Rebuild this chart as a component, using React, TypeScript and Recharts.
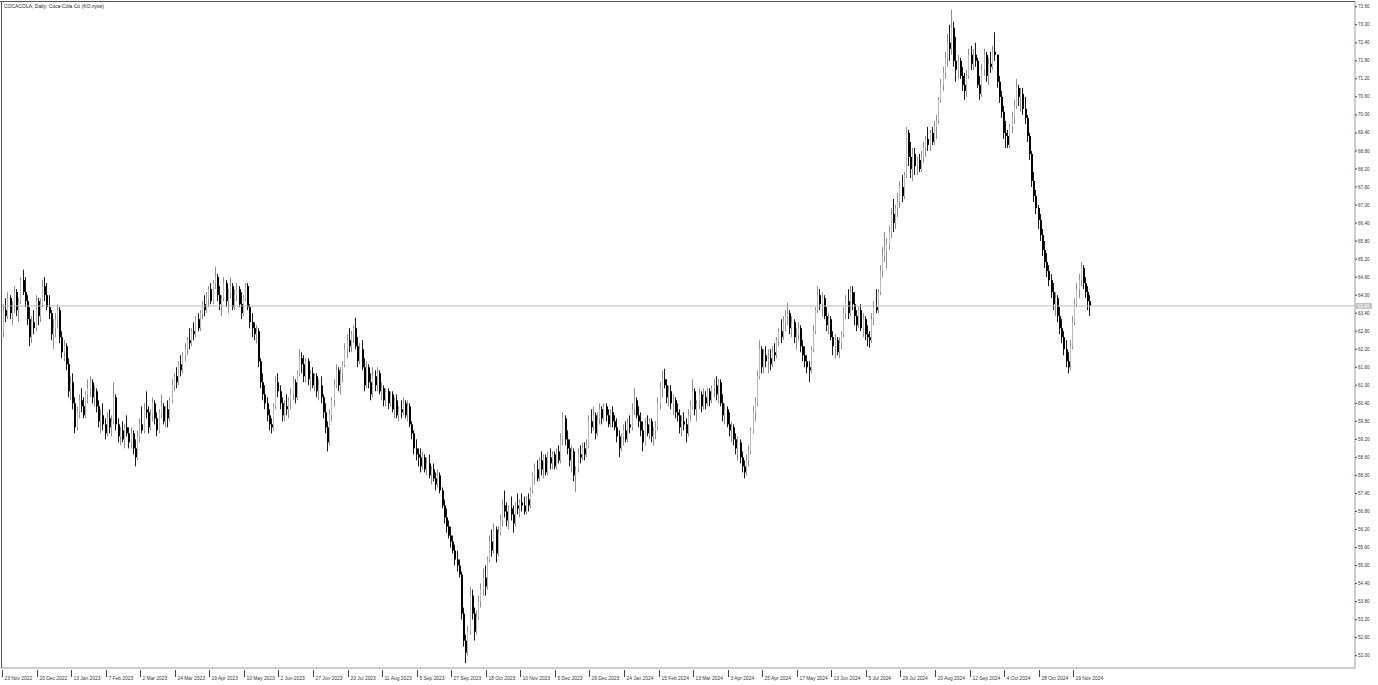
import { ComposedChart, Bar, XAxis, YAxis, ReferenceLine } from 'recharts';

// daily candles, [open, high, low, close]
const nov22ToApr23 = [
  [62.0,63.0,61.75,62.8],[62.8,63.7,62.6,63.5],[63.5,63.9,63.1,63.3],[63.3,64.1,63.2,63.9],[63.9,64.0,63.2,63.4],[63.4,63.8,63.0,63.6],[63.6,64.3,63.4,64.1],[64.1,64.2,63.3,63.5],[63.5,63.9,63.1,63.8],[63.8,64.6,63.7,64.5],
  [64.5,64.85,64.0,64.1],[64.1,64.6,63.6,63.8],[63.8,64.0,63.0,63.2],[63.2,63.6,62.3,62.6],[62.6,63.3,62.4,63.1],[63.1,63.5,62.7,62.9],[62.9,64.0,62.8,63.8],[63.8,63.9,63.0,63.3],[63.3,63.9,63.1,63.7],[63.7,64.5,63.6,64.3],
  [64.3,64.6,63.8,64.0],[64.0,64.4,63.5,63.6],[63.6,64.0,63.2,63.4],[63.4,63.5,62.5,62.7],[62.7,63.2,62.2,62.9],[62.9,63.4,62.6,63.2],[63.2,63.7,62.9,63.5],[63.5,63.6,62.4,62.6],[62.6,62.8,61.9,62.1],[62.1,62.5,61.8,62.3],
  [62.3,62.4,61.5,61.7],[61.7,61.9,60.6,60.8],[60.8,61.3,60.5,61.1],[61.1,61.4,60.2,60.4],[60.4,60.6,59.4,59.6],[59.6,60.3,59.5,60.1],[60.1,60.7,59.9,60.5],[60.5,60.9,60.1,60.3],[60.3,60.6,59.9,60.0],[60.0,60.8,59.9,60.7],
  [60.7,61.2,60.4,60.9],[60.9,61.3,60.6,61.1],[61.1,61.2,60.4,60.6],[60.6,61.0,60.3,60.8],[60.8,60.9,60.1,60.3],[60.3,60.5,59.6,59.8],[59.8,60.2,59.4,60.0],[60.0,60.4,59.5,59.7],[59.7,59.9,59.2,59.4],[59.4,60.1,59.3,59.9],
  [59.9,60.2,59.4,59.6],[59.6,60.0,59.3,59.8],[59.8,61.1,59.7,60.6],[60.6,60.7,59.5,59.7],[59.7,59.9,59.1,59.3],[59.3,59.6,59.0,59.5],[59.5,59.8,59.1,59.2],[59.2,59.7,58.9,59.6],[59.6,60.0,59.3,59.4],[59.4,59.6,58.9,59.1],
  [59.1,59.6,58.9,59.4],[59.4,59.5,58.7,58.9],[58.9,59.2,58.3,58.6],[58.6,59.5,58.5,59.3],[59.3,59.9,59.1,59.7],[59.7,60.3,59.4,59.5],[59.5,60.4,59.4,60.2],[60.2,60.8,59.9,60.1],[60.1,60.3,59.4,59.6],[59.6,60.2,59.5,60.0],
  [60.0,60.6,59.8,60.4],[60.4,60.5,59.7,59.9],[59.9,60.1,59.3,59.5],[59.5,60.2,59.4,60.1],[60.1,60.7,59.9,60.3],[60.3,60.4,59.7,59.8],[59.8,60.3,59.6,60.2],[60.2,60.5,59.6,59.9],[59.9,60.6,59.8,60.5],[60.5,61.2,60.4,61.0],
  [61.0,61.4,60.8,61.3],[61.3,61.6,60.9,61.1],[61.1,61.8,61.0,61.7],[61.7,62.0,61.3,61.5],[61.5,62.1,61.4,62.0],[62.0,62.4,61.8,62.2],[62.2,62.6,62.0,62.5],[62.5,62.9,62.2,62.4],[62.4,62.9,62.3,62.8],[62.8,63.1,62.5,62.7],
  [62.7,63.3,62.6,63.2],[63.2,63.4,62.8,62.9],[62.9,63.5,62.8,63.4],[63.4,63.8,63.2,63.7],[63.7,64.0,63.3,63.5],[63.5,64.1,63.4,63.9],[63.9,64.3,63.6,64.2],[64.2,64.4,63.7,63.8],[63.8,64.5,63.7,64.4],[64.4,64.95,64.2,64.6],
];

const apr23ToSep23 = [
  [64.6,64.7,63.8,64.0],[64.0,64.3,63.5,63.7],[63.7,64.0,63.3,63.9],[63.9,64.6,63.8,64.4],[64.4,64.5,63.6,63.8],[63.8,64.2,63.4,64.1],[64.1,64.6,63.9,64.3],[64.3,64.4,63.5,63.6],[63.6,64.2,63.5,64.0],[64.0,64.4,63.8,64.2],
  [64.2,64.3,63.6,63.7],[63.7,64.1,63.2,63.4],[63.4,64.0,63.3,63.9],[63.9,64.4,63.8,64.3],[64.3,64.4,63.5,63.6],[63.6,63.7,62.9,63.1],[63.1,63.4,62.6,62.9],[62.9,63.1,62.5,62.7],[62.7,63.0,62.4,62.8],[62.8,62.9,61.6,61.8],
  [61.8,61.9,60.9,61.1],[61.1,61.4,60.5,60.7],[60.7,61.0,60.2,60.4],[60.4,60.6,59.8,60.0],[60.0,60.2,59.5,59.7],[59.7,59.9,59.4,59.6],[59.6,60.4,59.5,60.3],[60.3,61.3,60.2,61.1],[61.1,61.4,60.6,60.8],[60.8,61.0,60.2,60.4],
  [60.4,60.6,59.8,60.0],[60.0,60.5,59.8,60.3],[60.3,60.7,60.0,60.2],[60.2,60.6,59.9,60.5],[60.5,60.9,60.2,60.7],[60.7,61.3,60.5,61.1],[61.1,61.2,60.4,60.6],[60.6,61.5,60.5,61.4],[61.4,62.2,61.3,61.9],[61.9,62.1,61.4,61.7],
  [61.7,62.0,61.1,61.3],[61.3,61.9,61.1,61.8],[61.8,61.9,61.0,61.2],[61.2,61.5,60.8,61.4],[61.4,61.6,60.9,61.0],[61.0,61.4,60.8,61.3],[61.3,61.4,60.6,60.8],[60.8,61.2,60.5,61.0],[61.0,61.3,60.4,60.6],[60.6,60.7,59.9,60.1],
  [60.1,60.4,59.4,59.6],[59.6,59.8,58.8,59.1],[59.1,60.2,59.0,60.0],[60.0,60.6,59.8,60.5],[60.5,61.2,60.3,61.0],[61.0,61.7,60.9,61.5],[61.5,61.6,60.8,61.0],[61.0,61.6,60.7,61.4],[61.4,61.8,61.1,61.7],[61.7,62.4,61.6,62.2],
  [62.2,62.7,61.9,62.5],[62.5,62.9,62.1,62.3],[62.3,62.8,62.1,62.7],[62.7,63.0,62.4,62.9],[62.9,63.25,62.2,62.3],[62.3,62.6,61.6,61.8],[61.8,62.4,61.7,62.2],[62.2,62.5,61.5,61.6],[61.6,61.9,60.8,61.0],[61.0,61.8,60.9,61.6],
  [61.6,61.7,60.9,61.1],[61.1,61.4,60.5,60.7],[60.7,61.6,60.6,61.3],[61.3,61.5,60.8,61.0],[61.0,61.6,60.8,61.4],[61.4,61.5,60.7,60.8],[60.8,61.1,60.5,60.9],[60.9,61.0,60.3,60.5],[60.5,60.9,60.3,60.8],[60.8,60.9,60.2,60.4],
  [60.4,60.8,60.3,60.7],[60.7,60.8,60.1,60.2],[60.2,60.6,59.9,60.5],[60.5,60.7,59.9,60.0],[60.0,60.3,59.8,60.2],[60.2,60.5,59.9,60.1],[60.1,60.6,60.0,60.4],[60.4,60.5,59.9,60.0],[60.0,60.5,59.8,60.3],[60.3,60.4,59.6,59.7],
  [59.7,59.8,59.2,59.4],[59.4,59.5,58.7,58.9],[58.9,59.2,58.5,58.7],[58.7,58.9,58.3,58.6],[58.6,58.9,58.1,58.3],[58.3,58.8,58.2,58.6],[58.6,58.7,58.1,58.2],[58.2,58.6,58.0,58.4],[58.4,58.7,57.9,58.0],[58.0,58.3,57.7,58.2],
];

const sep23ToFeb24 = [
  [58.2,58.4,57.8,57.9],[57.9,58.1,57.5,57.7],[57.7,58.2,57.6,58.0],[58.0,58.1,57.4,57.5],[57.5,57.6,56.9,57.0],[57.0,57.2,56.4,56.6],[56.6,56.9,56.1,56.3],[56.3,56.5,55.9,56.0],[56.0,56.3,55.6,55.8],[55.8,56.0,55.4,55.5],
  [55.5,55.7,55.0,55.2],[55.2,55.5,54.8,55.0],[55.0,55.2,54.6,54.7],[54.7,54.8,53.2,53.4],[53.4,53.6,52.3,52.5],[52.5,52.7,51.75,52.1],[52.1,53.0,52.0,52.8],[52.8,54.3,52.7,54.0],[54.0,54.2,53.2,53.4],[53.4,53.6,52.5,52.8],
  [52.8,53.5,52.7,53.3],[53.3,54.0,53.2,53.8],[53.8,54.4,53.6,54.2],[54.2,54.9,54.0,54.6],[54.6,55.0,54.0,54.3],[54.3,55.3,54.2,55.2],[55.2,56.0,55.1,55.8],[55.8,56.2,55.3,55.5],[55.5,56.4,55.4,56.2],[56.2,56.3,55.1,55.4],
  [55.4,56.3,55.3,56.1],[56.1,56.7,56.0,56.5],[56.5,57.2,56.3,57.0],[57.0,57.5,56.6,56.8],[56.8,57.1,56.3,56.5],[56.5,57.0,56.2,56.9],[56.9,57.3,56.5,56.7],[56.7,57.0,56.1,56.4],[56.4,57.1,56.3,57.0],[57.0,57.4,56.7,56.9],
  [56.9,57.2,56.6,57.1],[57.1,57.4,56.8,57.0],[57.0,57.3,56.7,56.8],[56.8,57.3,56.7,57.2],[57.2,57.4,56.8,57.0],[57.0,57.6,56.9,57.5],[57.5,58.1,57.4,58.0],[58.0,58.4,57.7,58.2],[58.2,58.5,57.8,57.9],[57.9,58.6,57.8,58.5],
  [58.5,58.8,58.0,58.2],[58.2,58.7,57.9,58.6],[58.6,58.7,58.0,58.1],[58.1,58.8,58.0,58.6],[58.6,58.9,58.2,58.4],[58.4,58.8,58.2,58.7],[58.7,58.8,58.2,58.3],[58.3,58.9,58.2,58.8],[58.8,59.0,58.4,58.5],[58.5,59.4,58.4,59.2],
  [59.2,60.1,59.0,59.9],[59.9,60.0,59.0,59.2],[59.2,59.5,58.7,58.9],[58.9,59.2,58.3,58.5],[58.5,59.0,58.1,58.8],[58.8,58.9,57.8,58.0],[58.0,58.3,57.45,58.2],[58.2,58.9,58.1,58.7],[58.7,59.0,58.4,58.6],[58.6,59.1,58.5,58.9],
  [58.9,59.1,58.5,58.7],[58.7,59.2,58.6,59.0],[59.0,60.0,58.9,59.8],[59.8,60.2,59.4,59.6],[59.6,60.3,59.5,60.0],[60.0,60.1,59.2,59.4],[59.4,60.1,59.3,59.9],[59.9,60.4,59.7,60.2],[60.2,60.3,59.7,59.9],[59.9,60.4,59.8,60.3],
  [60.3,60.4,59.8,60.0],[60.0,60.2,59.6,59.7],[59.7,60.2,59.6,60.1],[60.1,60.3,59.6,59.8],[59.8,60.0,59.5,59.6],[59.6,59.9,59.1,59.3],[59.3,59.5,58.6,58.9],[58.9,59.4,58.8,59.3],[59.3,59.7,59.0,59.5],[59.5,59.8,59.1,59.2],
  [59.2,59.9,59.1,59.7],[59.7,60.0,59.4,59.6],[59.6,60.4,59.5,60.2],[60.2,60.9,60.0,60.5],[60.5,60.6,59.9,60.0],[60.0,60.3,59.6,59.8],[59.8,60.1,59.3,59.5],[59.5,59.8,58.8,59.1],[59.1,59.9,59.0,59.7],[59.7,60.0,59.3,59.4],
];

const feb24ToJul24 = [
  [59.4,59.9,59.2,59.8],[59.8,59.9,59.1,59.3],[59.3,59.6,59.0,59.5],[59.5,59.8,59.2,59.6],[59.6,60.6,59.5,60.4],[60.4,61.1,60.2,60.9],[60.9,61.5,60.6,61.2],[61.2,61.55,60.9,61.0],[61.0,61.2,60.4,60.6],[60.6,61.0,60.3,60.8],
  [60.8,61.0,60.2,60.4],[60.4,60.7,60.0,60.5],[60.5,60.6,59.9,60.1],[60.1,60.4,59.8,60.0],[60.0,60.2,59.4,59.6],[59.6,60.0,59.3,59.8],[59.8,60.1,59.5,59.7],[59.7,59.9,59.1,59.4],[59.4,60.2,59.3,60.0],[60.0,60.5,59.8,60.3],
  [60.3,61.2,60.2,60.8],[60.8,60.9,60.0,60.2],[60.2,60.5,59.8,60.4],[60.4,60.9,60.2,60.7],[60.7,60.8,60.1,60.3],[60.3,60.9,60.2,60.6],[60.6,60.8,60.2,60.4],[60.4,60.9,60.3,60.8],[60.8,60.9,60.3,60.5],[60.5,61.0,60.4,60.9],
  [60.9,61.2,60.6,61.0],[61.0,61.3,60.5,60.7],[60.7,61.2,60.4,61.1],[61.1,61.2,60.3,60.4],[60.4,60.7,59.8,60.0],[60.0,60.4,59.7,60.2],[60.2,60.3,59.6,59.7],[59.7,60.1,59.3,59.5],[59.5,59.8,59.1,59.6],[59.6,59.7,59.0,59.2],
  [59.2,59.4,58.7,58.9],[58.9,59.3,58.5,59.1],[59.1,59.2,58.4,58.6],[58.6,58.8,58.1,58.3],[58.3,58.5,57.9,58.1],[58.1,58.7,58.0,58.5],[58.5,59.0,58.3,58.8],[58.8,59.6,58.7,59.5],[59.5,60.3,59.4,60.1],[60.1,60.6,59.8,60.4],
  [60.4,61.5,60.3,61.3],[61.3,62.5,61.2,62.2],[62.2,62.3,61.4,61.6],[61.6,62.2,61.4,62.0],[62.0,62.3,61.6,61.8],[61.8,62.2,61.4,61.9],[61.9,62.2,61.5,61.7],[61.7,62.3,61.6,62.1],[62.1,62.4,61.8,62.0],[62.0,62.6,61.9,62.5],
  [62.5,62.9,62.3,62.8],[62.8,63.2,62.4,62.6],[62.6,63.3,62.5,63.1],[63.1,63.5,62.8,63.3],[63.3,63.75,63.0,63.4],[63.4,63.5,62.7,62.9],[62.9,63.3,62.6,63.1],[63.1,63.2,62.4,62.6],[62.6,62.9,62.2,62.7],[62.7,63.1,62.5,62.9],
  [62.9,63.0,62.1,62.3],[62.3,62.5,61.8,62.0],[62.0,62.3,61.6,61.8],[61.8,62.0,61.4,61.6],[61.6,61.8,61.1,61.5],[61.5,62.3,61.4,62.2],[62.2,63.0,62.1,62.8],[62.8,63.6,62.7,63.5],[63.5,64.3,63.4,64.0],[64.0,64.2,63.5,63.7],
  [63.7,64.1,63.3,63.9],[63.9,64.0,63.2,63.3],[63.3,63.6,62.8,63.0],[63.0,63.4,62.7,63.2],[63.2,63.3,62.5,62.6],[62.6,62.8,62.0,62.3],[62.3,62.7,61.9,62.5],[62.5,62.6,62.0,62.1],[62.1,62.6,61.9,62.4],[62.4,62.8,62.2,62.7],
  [62.7,63.6,62.6,63.4],[63.4,64.0,63.2,63.8],[63.8,64.2,63.2,63.4],[63.4,64.3,63.3,64.1],[64.1,64.3,63.5,63.7],[63.7,64.1,63.0,63.3],[63.3,63.5,62.8,63.0],[63.0,63.6,62.9,63.5],[63.5,63.7,62.8,62.9],[62.9,63.4,62.6,63.2],
];

const jul24ToDec24 = [
  [63.2,63.3,62.5,62.7],[62.7,63.0,62.3,62.6],[62.6,62.8,62.25,62.5],[62.5,63.4,62.4,63.2],[63.2,63.8,63.0,63.6],[63.6,64.2,63.4,63.5],[63.5,64.2,63.4,64.1],[64.1,65.0,64.0,64.8],[64.8,65.6,64.6,65.3],[65.3,66.1,65.1,65.5],
  [65.5,65.9,64.9,65.7],[65.7,66.3,65.5,66.1],[66.1,66.9,65.9,66.7],[66.7,67.2,66.1,66.4],[66.4,67.0,66.2,66.9],[66.9,67.4,66.6,67.1],[67.1,67.8,66.9,67.6],[67.6,68.0,67.1,67.3],[67.3,68.1,67.2,68.0],[68.0,69.6,67.9,69.4],
  [69.4,69.5,68.3,68.6],[68.6,69.1,67.9,68.2],[68.2,68.9,67.8,68.7],[68.7,68.9,68.0,68.3],[68.3,68.6,68.0,68.5],[68.5,68.7,68.1,68.2],[68.2,68.8,68.1,68.6],[68.6,69.1,68.4,68.9],[68.9,69.3,68.6,69.2],[69.2,69.6,68.8,69.0],
  [69.0,69.5,68.8,69.4],[69.4,69.6,69.0,69.1],[69.1,69.8,69.0,69.6],[69.6,70.0,69.2,69.8],[69.8,70.6,69.7,70.5],[70.5,71.2,70.4,71.0],[71.0,71.6,70.8,71.4],[71.4,72.1,71.2,71.9],[71.9,72.7,71.6,72.4],[72.4,73.0,71.8,72.2],
  [72.2,73.5,72.0,72.9],[72.9,73.1,71.6,71.8],[71.8,72.6,71.1,71.5],[71.5,72.0,71.2,71.8],[71.8,71.9,71.2,71.3],[71.3,71.6,70.8,71.0],[71.0,71.4,70.5,70.8],[70.8,71.5,70.6,71.3],[71.3,72.2,71.2,72.0],[72.0,72.3,71.5,71.7],
  [71.7,72.2,71.5,72.0],[72.0,72.4,71.6,71.8],[71.8,71.9,70.9,71.0],[71.0,71.3,70.5,70.7],[70.7,71.7,70.6,71.5],[71.5,72.2,71.3,72.0],[72.0,72.1,71.1,71.3],[71.3,71.9,71.0,71.7],[71.7,72.1,71.4,71.6],[71.6,72.3,71.5,72.1],
  [72.1,72.75,71.8,72.0],[72.0,72.0,70.9,71.1],[71.1,71.3,70.4,70.6],[70.6,70.8,69.9,70.1],[70.1,70.3,69.2,69.4],[69.4,69.8,68.9,69.3],[69.3,69.5,68.9,69.0],[69.0,69.7,68.9,69.6],[69.6,70.1,69.4,69.9],[69.9,70.5,69.7,70.3],
  [70.3,71.2,70.2,70.9],[70.9,71.0,70.3,70.6],[70.6,70.9,70.1,70.7],[70.7,70.9,70.0,70.2],[70.2,70.6,69.7,69.9],[69.9,70.0,69.1,69.3],[69.3,69.4,68.5,68.7],[68.7,68.8,67.6,67.8],[67.8,68.1,67.1,67.3],[67.3,67.5,66.7,66.9],
  [66.9,67.0,66.2,66.5],[66.5,66.7,65.8,66.0],[66.0,66.2,65.3,65.5],[65.5,65.8,64.9,65.1],[65.1,65.4,64.6,64.8],[64.8,65.0,64.3,64.5],[64.5,64.7,63.9,64.1],[64.1,64.4,63.5,63.7],[63.7,64.1,63.3,63.9],[63.9,64.0,63.1,63.3],
  [63.3,63.6,62.7,62.9],[62.9,63.2,62.4,62.6],[62.6,62.8,62.0,62.2],[62.2,62.5,61.6,61.8],[61.8,62.1,61.4,61.6],[61.6,62.5,61.5,62.3],[62.3,63.3,62.2,63.1],[63.1,63.9,63.0,63.7],[63.7,64.4,63.6,64.2],[64.2,64.7,63.9,64.5],
  [64.5,65.1,64.3,64.9],[64.9,65.0,64.2,64.4],[64.4,64.6,63.9,64.1],[64.1,64.3,63.5,63.8],[63.8,64.0,63.3,63.64],
];

// one label every 16 bars
const timeLabels = [
  '23 Nov 2022', '20 Dec 2022', '13 Jan 2023', '7 Feb 2023', '2 Mar 2023', '24 Mar 2023', '19 Apr 2023', '10 May 2023',
  '2 Jun 2023', '27 Jun 2023', '20 Jul 2023', '11 Aug 2023', '5 Sep 2023', '27 Sep 2023', '18 Oct 2023', '10 Nov 2023',
  '5 Dec 2023', '29 Dec 2023', '24 Jan 2024', '15 Feb 2024', '13 Mar 2024', '3 Apr 2024', '25 Apr 2024', '17 May 2024',
  '13 Jun 2024', '5 Jul 2024', '29 Jul 2024', '20 Aug 2024', '12 Sep 2024', '4 Oct 2024', '28 Oct 2024', '19 Nov 2024',
];

const priceTicks = [
  52.0, 52.6, 53.2, 53.8, 54.4, 55.0, 55.6, 56.2, 56.8, 57.4, 58.0, 58.6, 59.2, 59.8, 60.4, 61.0, 61.6, 62.2, 62.8,
  63.4, 64.0, 64.6, 65.2, 65.8, 66.4, 67.0, 67.6, 68.2, 68.8, 69.4, 70.0, 70.6, 71.2, 71.8, 72.4, 73.0, 73.6,
];

const lastPrice = 63.64;
const LABEL_STEP = 16;
const SLOTS = 627; // visible bar slots incl. empty chart shift on the right

const candles = [...nov22ToApr23, ...apr23ToSep23, ...sep23ToFeb24, ...feb24ToJul24, ...jul24ToDec24];

const data = Array.from({ length: SLOTS }, (_, i) => {
  const b = candles[i];
  if (!b) return { i };
  const [o, h, l, c] = b;
  return { i, o, c, range: [Math.min(l, o, c), Math.max(h, o, c)] };
});

const FONT = '"Liberation Sans", Arial, sans-serif';

function Candle(props: any) {
  const { x, y, height, payload } = props;
  if (!payload || !payload.range) return null;
  const [lo, hi] = payload.range;
  const k = hi > lo ? height / (hi - lo) : 0;
  const top = y + (hi - Math.max(payload.o, payload.c)) * k;
  const bot = y + (hi - Math.min(payload.o, payload.c)) * k;
  const bx = Math.round(x);
  const up = payload.c >= payload.o;
  // bull candles come out light grey in the downscaled terminal shot
  return (
    <g>
      <rect x={bx} y={y} width={1} height={Math.max(height, 1)} fill={up ? '#8e8e8e' : '#1a1a1a'} />
      <rect x={bx} y={top} width={up ? 1 : 2} height={Math.max(bot - top, 1)} fill={up ? '#b8b8b8' : '#000'} />
    </g>
  );
}

function TimeTick(props: any) {
  const { x, y, payload } = props;
  const v = payload.value;
  const label = v % LABEL_STEP === 0 ? timeLabels[v / LABEL_STEP] : undefined;
  if (!label) return null;
  const tx = Math.round(x) + 0.5;
  return (
    <g>
      <line x1={tx} x2={tx} y1={y + 2} y2={y + 9} stroke="#444" />
      <text x={tx + 2} y={y + 12} fontSize={4.9} fontFamily={FONT} fill="#333">{label}</text>
    </g>
  );
}

function PriceTick(props: any) {
  const { x, y, payload } = props;
  return (
    <text x={x} y={y} dy={1.6} fontSize={4.6} fontFamily={FONT} fill="#333" textAnchor="start">
      {payload.value.toFixed(2)}
    </text>
  );
}

function PriceTag(props: any) {
  const vb = props.viewBox;
  if (!vb) return null;
  const x = vb.x + vb.width + 1;
  return (
    <g>
      <rect x={x} y={vb.y - 3} width={16} height={6} fill="#c2c2c2" />
      <text x={x + 1.5} y={vb.y + 1.6} fontSize={4.6} fontFamily={FONT} fill="#fff">{lastPrice.toFixed(2)}</text>
    </g>
  );
}

export default function App() {
  return (
    <div style={{ position: 'relative', width: 1378, height: 685, background: '#fff' }}>
      <style>{'body{margin:0}'}</style>
      <ComposedChart width={1378} height={685} data={data} margin={{ top: 1, right: 0, bottom: 0, left: 1 }} barCategoryGap={0}>
        <XAxis
          dataKey="i"
          interval={LABEL_STEP - 1}
          tick={<TimeTick />}
          tickLine={false}
          tickSize={0}
          tickMargin={0}
          height={17}
          axisLine={{ stroke: '#9a9a9a' }}
        />
        <YAxis
          orientation="right"
          type="number"
          domain={[51.59, 73.79]}
          allowDataOverflow
          ticks={priceTicks}
          interval={0}
          tick={<PriceTick />}
          tickLine={{ stroke: '#444' }}
          tickSize={2}
          tickMargin={1}
          width={23}
          axisLine={{ stroke: '#9a9a9a' }}
        />
        <ReferenceLine y={lastPrice} stroke="#b8b8b8" label={<PriceTag />} />
        <Bar dataKey="range" barSize={2} shape={<Candle />} isAnimationActive={false} />
      </ComposedChart>
      <svg width={1378} height={685} style={{ position: 'absolute', left: 0, top: 0, pointerEvents: 'none' }}>
        <line x1={0} x2={1355} y1={1.5} y2={1.5} stroke="#555" />
        <line x1={1.5} x2={1.5} y1={1} y2={668} stroke="#555" />
        <text x={4} y={7.5} fontSize={5} fontFamily={FONT} fill="#222">COCACOLA, Daily:  Coca-Cola Co (KO.nyse)</text>
      </svg>
    </div>
  );
}
